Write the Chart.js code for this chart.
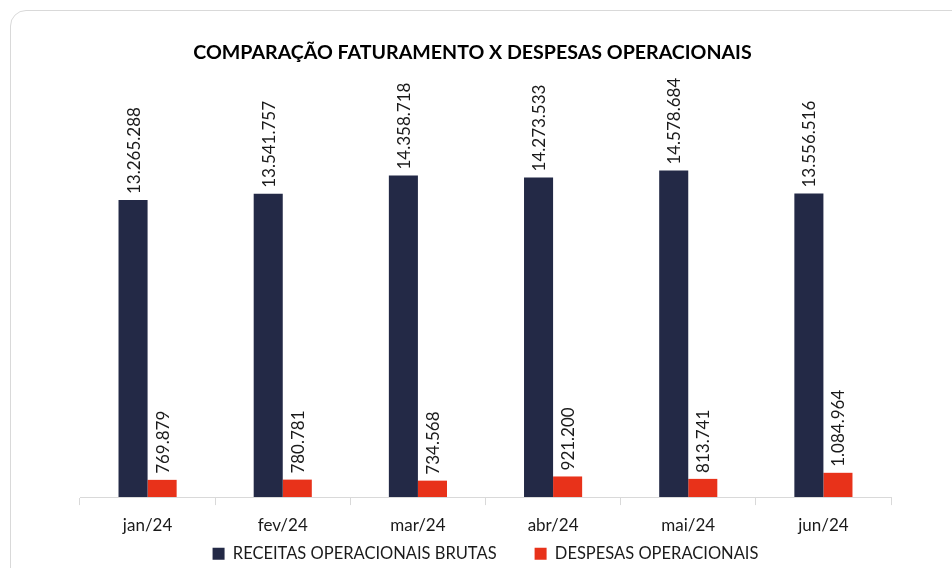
<!DOCTYPE html>
<html lang="pt-BR">
  <head>
    <meta charset="UTF-8" />
    <title>Comparação Faturamento x Despesas</title>
  </head>
  <style>
    * {
      margin: 0;
      padding: 0;
    }
    body {
      width: 952px;
      height: 568px;
      overflow: hidden;
      background: #fff;
      position: relative;
    }
    .card {
      position: absolute;
      left: 10px;
      top: 10px;
      width: 1000px;
      height: 620px;
      border: 1.5px solid #d9d9d9;
      border-radius: 16px;
      background: #fff;
    }
    .chartBox {
      position: absolute;
      left: 0;
      top: 0;
      width: 952px;
      height: 568px;
    }
  </style>
  <body>
    <div class="card"></div>
    <div class="chartBox">
      <canvas id="myChart" width="952" height="568"></canvas>
    </div>

    <script src="https://cdn.jsdelivr.net/npm/chart.js"></script>

    <script>
      // data
      const months = ["jan/24", "fev/24", "mar/24", "abr/24", "mai/24", "jun/24"];
      const receitas = [13265288, 13541757, 14358718, 14273533, 14578684, 13556516];
      const despesas = [769879, 780781, 734568, 921200, 813741, 1084964];
      const chartTitle = "COMPARAÇÃO FATURAMENTO X DESPESAS OPERACIONAIS";

      const navy = "#232946";
      const red = "#e8321a";

      // 13265288 -> 13.265.288
      const fmt = (v) => String(v).replace(/\B(?=(\d{3})+(?!\d))/g, ".");

      // title drawn by hand so it can sit centered on the card, not the plot
      const cardTitle = {
        id: "cardTitle",
        afterDraw: (chart) => {
          const { ctx } = chart;
          ctx.save();
          ctx.font = "bold 19.6px Lato";
          ctx.fillStyle = "#000";
          ctx.textAlign = "center";
          ctx.textBaseline = "middle";
          ctx.fillText(chartTitle, 472.5, 53);
          ctx.restore();
        }
      };

      // rotated value labels above each bar
      const barLabels = {
        id: "barLabels",
        afterDatasetsDraw: (chart) => {
          const { ctx } = chart;
          chart.data.datasets.forEach((ds, i) => {
            const meta = chart.getDatasetMeta(i);
            meta.data.forEach((bar, j) => {
              ctx.save();
              ctx.translate(bar.x, bar.y - 6);
              ctx.rotate(-Math.PI / 2);
              ctx.font = "17px Lato";
              ctx.fillStyle = "#1a1a1a";
              ctx.textAlign = "left";
              ctx.textBaseline = "middle";
              ctx.fillText(fmt(ds.data[j]), 0, 1);
              ctx.restore();
            });
          });
        }
      };

      const data = {
        labels: months,
        datasets: [
          {
            label: "RECEITAS OPERACIONAIS BRUTAS",
            data: receitas,
            backgroundColor: navy,
            barPercentage: 1,
            categoryPercentage: 0.43
          },
          {
            label: "DESPESAS OPERACIONAIS",
            data: despesas,
            backgroundColor: red,
            barPercentage: 1,
            categoryPercentage: 0.43
          }
        ]
      };

      const config = {
        type: "bar",
        data,
        options: {
          responsive: false,
          animation: false,
          layout: {
            padding: { left: 80, right: 61, top: 94, bottom: -4 }
          },
          scales: {
            x: {
              grid: {
                offset: true,
                drawOnChartArea: false,
                drawTicks: true,
                tickLength: 8,
                color: "#d9d9d9"
              },
              border: { display: true, color: "#d9d9d9", width: 1 },
              ticks: {
                color: "#1a1a1a",
                font: { family: "Lato", size: 17 },
                padding: 10
              }
            },
            y: {
              display: false,
              min: 0,
              max: 18000000
            }
          },
          plugins: {
            title: { display: false },
            legend: {
              position: "bottom",
              labels: {
                color: "#1a1a1a",
                font: { family: "Lato", size: 16.5 },
                boxWidth: 12,
                boxHeight: 12,
                padding: 0,
                generateLabels: (chart) => {
                  const items = Chart.defaults.plugins.legend.labels.generateLabels(chart);
                  items[0].text += "\u00A0".repeat(9);
                  return items;
                }
              }
            },
            tooltip: { enabled: false }
          }
        },
        plugins: [cardTitle, barLabels]
      };

      const ctx = document.getElementById("myChart");
      const myChart = new Chart(ctx, config);
    </script>
  </body>
</html>
